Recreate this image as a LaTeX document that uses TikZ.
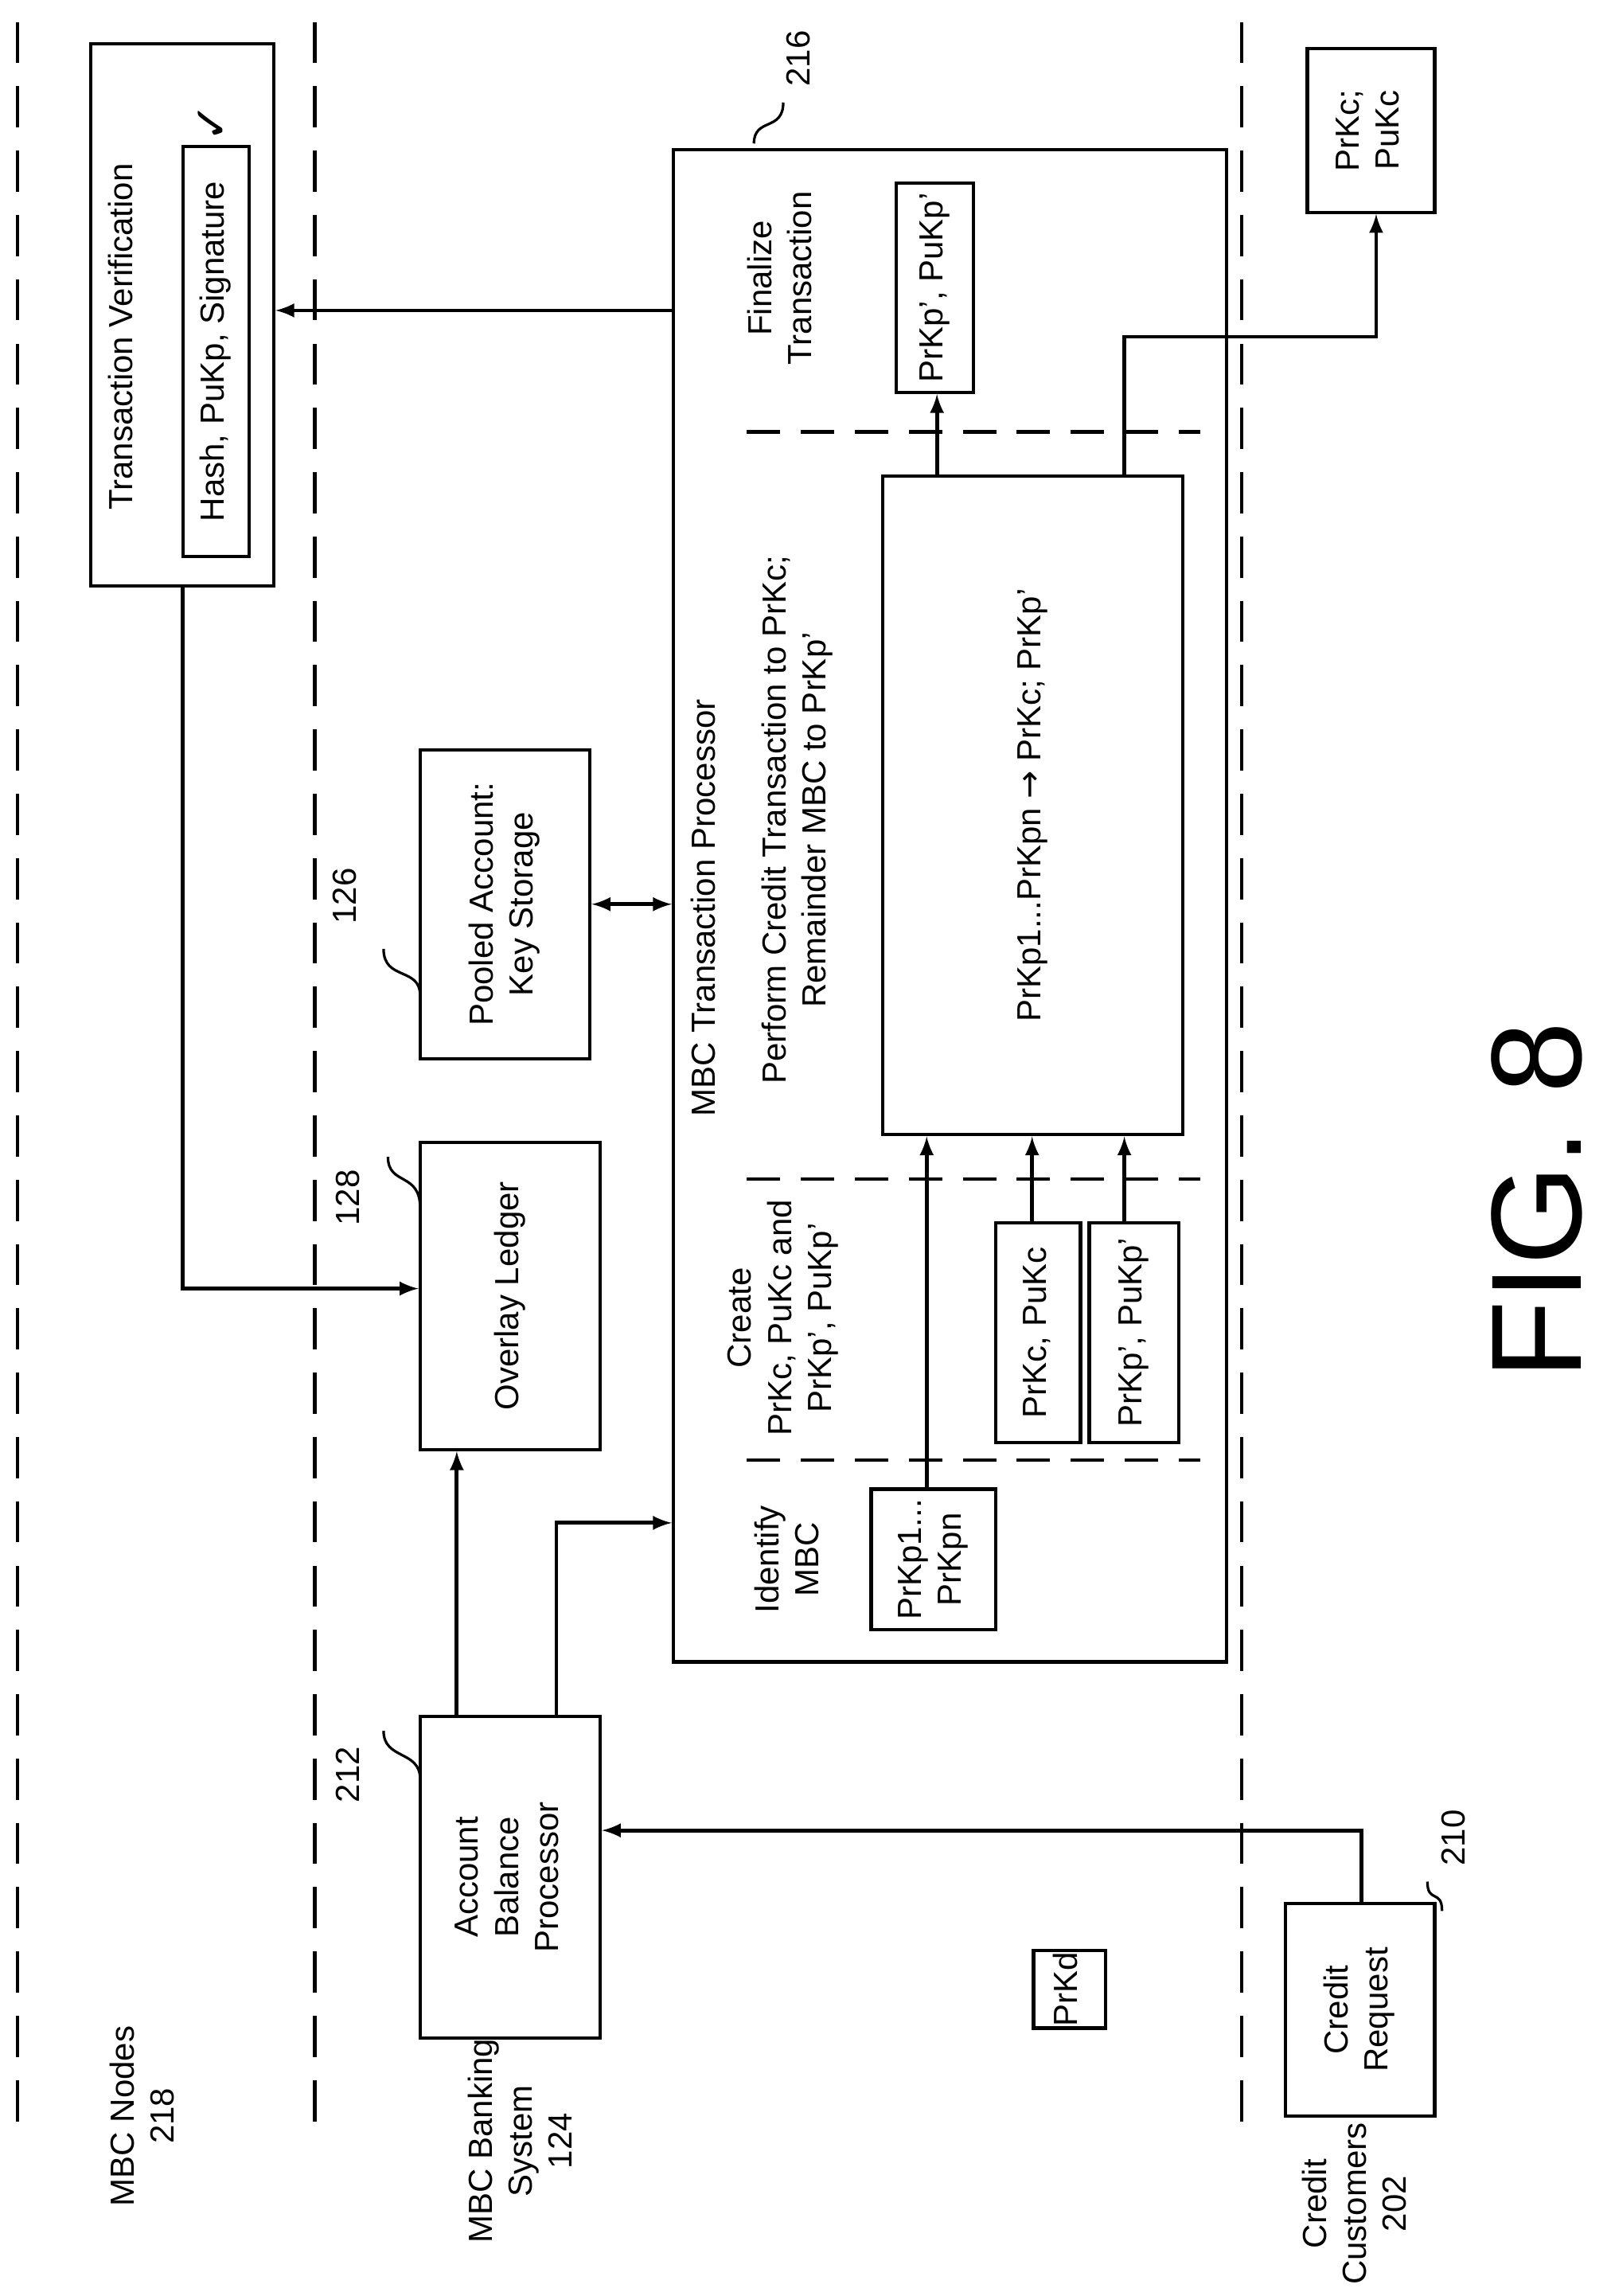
\documentclass[tikz,border=0pt]{standalone}
\usepackage{fontspec}
\setmainfont{Liberation Sans}
\newfontfamily\symfont{DejaVu Sans}
\usetikzlibrary{arrows}

\newcommand{\rt}[1]{\rotatebox{90}{\begin{tabular}{@{}c@{}}#1\end{tabular}}}

\begin{document}
\begin{tikzpicture}[x=0.02cm, y=-0.02cm,
    font=\fontsize{13}{15.5}\selectfont,
    box/.style={draw, line width=1.3pt, inner sep=0pt},
    lane/.style={line width=1.3pt, dash pattern=on 16pt off 9pt},
    split/.style={line width=1.3pt, dash pattern=on 13pt off 8pt},
    conn/.style={line width=1.5pt, -latex},
    tag/.style={line width=1pt}]
        \useasboundingbox (0,0) rectangle (1100,1568);

        % Lanes.
        \draw[lane] (12,15) -- (12,1460);
        \draw[lane] (215,15) -- (215,1460);
        \draw[lane] (848,15) -- (848,1460);
        \node (nodes) at (100,1445) {\rt{MBC Nodes\\218}};
        \node (bank) at (358,1462) {\rt{MBC Banking\\System\\124}};
        \node (cust) at (928,1505) {\rt{Credit\\Customers\\202}};

        % MBC nodes.
        \node[box, minimum width=2.5cm, minimum height=7.4cm] (verify) at (124.5,215) {};
        \node (verifytxt) at (85,230) {\rt{Transaction Verification}};
        \node[box, minimum width=0.9cm, minimum height=5.6cm] (hash) at (147.5,240) {\rt{Hash, PuKp, Signature}};
        \node (check) at (145,84) {\symfont\fontsize{18}{18}\selectfont\rotatebox{90}{✓}};

        % Banking system.
        \node[box, minimum width=2.32cm, minimum height=4.22cm] (pool) at (345,617.5) {\rt{Pooled Account:\\Key Storage}};
        \node[box, minimum width=2.46cm, minimum height=4.2cm] (ledger) at (348.5,885) {\rt{Overlay Ledger}};
        \node[box, minimum width=2.46cm, minimum height=4.4cm] (balance) at (348.5,1282) {\rt{Account\\Balance\\Processor}};
        \node (n126) at (238,612) {\rt{126}};
        \node (n128) at (240,818) {\rt{128}};
        \node (n212) at (240,1212) {\rt{212}};
        \draw[tag] (262,648) .. controls (262,670) and (287,660) .. (287,680);
        \draw[tag] (265,790) .. controls (265,810) and (287,800) .. (287,825);
        \draw[tag] (262,1182) .. controls (262,1202) and (287,1195) .. (287,1215);

        % MBC transaction processor.
        \node[box, minimum width=7.56cm, minimum height=20.66cm] (mbc) at (649,618.5) {};
        \node (n216) at (548,40) {\rt{216}};
        \draw[tag] (515,98) .. controls (515,80) and (535,90) .. (535,70);
        \node (mbctxt) at (483,620) {\rt{MBC Transaction Processor}};
        \draw[split] (510,295) -- (820,295);
        \draw[split] (510,805) -- (820,805);
        \draw[split] (510,997) -- (820,997);
        \node (fintxt) at (535,190) {\rt{Finalize\\Transaction}};
        \node[box, minimum width=1.06cm, minimum height=2.86cm] (final) at (638.5,196.5) {\rt{PrKp', PuKp'}};
        \node (perftxt) at (545,560) {\rt{Perform Credit Transaction to PrKc;\\Remainder MBC to PrKp'}};
        \node[box, minimum width=4.1cm, minimum height=9cm] (swap) at (705.5,550) {\rt{PrKp1...PrKpn {\symfont→} PrKc; PrKp'}};
        \node (createtxt) at (535,900) {\rt{Create\\PrKc, PuKc and\\PrKp', PuKp'}};
        \node[box, minimum width=1.16cm, minimum height=3cm] (ckeys) at (709,910) {\rt{PrKc, PuKc}};
        \node[box, minimum width=1.22cm, minimum height=3cm] (pkeys) at (774.5,910) {\rt{PrKp', PuKp'}};
        \node (idtxt) at (540,1065) {\rt{Identify\\MBC}};
        \node[box, minimum width=1.7cm, minimum height=1.92cm] (ident) at (637.5,1065) {\rt{PrKp1...\\PrKpn}};
        \node[box, minimum width=0.98cm, minimum height=1.06cm] (prkd) at (730.5,1358.5) {\rt{PrKd}};

        % Credit customers.
        \node[box, minimum width=1.74cm, minimum height=2.24cm] (ckc) at (936.5,89) {\rt{PrKc;\\PuKc}};
        \node[box, minimum width=2.04cm, minimum height=2.9cm] (request) at (929,1372.5) {\rt{Credit\\Request}};
        \node (n210) at (995,1255) {\rt{210}};
        \draw[tag] (975,1285) .. controls (975,1300) and (985,1290) .. (985,1305);

        % Connectors.
        \draw[conn] (mbc.west |- 0,212) -- (verify.east |- 0,212);
        \draw[conn] (verify.south -| 125,0) |- (ledger.west |- 0,880);
        \draw[line width=1.5pt, latex-latex] (pool.east) -- (mbc.west |- pool.east);
        \draw[conn] (balance.north -| 312,0) -- (ledger.south -| 312,0);
        \draw[conn] (balance.north -| 380,0) |- (mbc.west |- 0,1040);
        \draw[conn] (request.north -| 930,0) |- (balance.east |- 0,1250);
        \draw[conn] (swap.north -| 640,0) -- (final.south -| 640,0);
        \draw[conn] (swap.north -| 768,0) |- (940,230) -- (ckc.south -| 940,0);
        \draw[conn] (ident.north -| 633,0) -- (swap.south -| 633,0);
        \draw[conn] (ckeys.north -| 705,0) -- (swap.south -| 705,0);
        \draw[conn] (pkeys.north -| 768,0) -- (swap.south -| 768,0);

        % Figure title.
        \node (fig) at (1050,820) {\fontsize{50}{50}\selectfont\rotatebox{90}{FIG. 8}};
      \end{tikzpicture}
\end{document}
